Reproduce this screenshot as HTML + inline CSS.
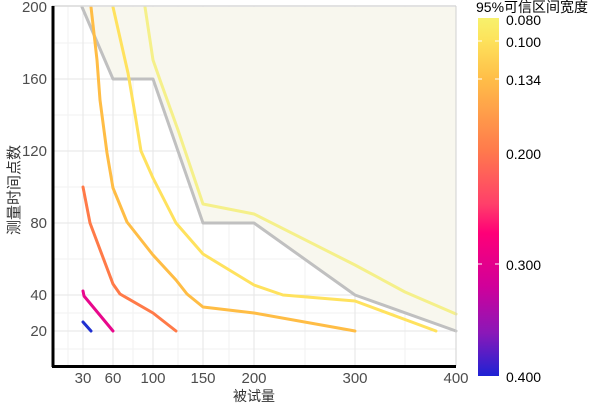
<!DOCTYPE html>
<html><head><meta charset="utf-8"><style>
body{margin:0;background:#fff;}
svg{display:block;font-family:"Liberation Sans","Noto Sans CJK SC",sans-serif;}
</style></head><body>
<svg width="606" height="409" viewBox="0 0 606 409">
<defs>
<linearGradient id="cb" x1="0" y1="0" x2="0" y2="1">
<stop offset="0" stop-color="#f7f16c"/>
<stop offset="0.06" stop-color="#fde35c"/>
<stop offset="0.17" stop-color="#ffbe48"/>
<stop offset="0.37" stop-color="#ff7a4c"/>
<stop offset="0.52" stop-color="#ff3f6a"/>
<stop offset="0.6" stop-color="#ff0077"/>
<stop offset="0.75" stop-color="#d0009a"/>
<stop offset="0.88" stop-color="#8a18b8"/>
<stop offset="1" stop-color="#1e22d4"/>
</linearGradient>
</defs>
<rect x="52" y="6" width="404" height="360" fill="#fff"/>
<g stroke="#f2f2f2" stroke-width="1">
<line x1="52" x2="456" y1="349" y2="349"/><line x1="52" x2="456" y1="313" y2="313"/>
<line x1="52" x2="456" y1="259" y2="259"/><line x1="52" x2="456" y1="187" y2="187"/>
<line x1="52" x2="456" y1="115" y2="115"/><line x1="52" x2="456" y1="43" y2="43"/>
<line y1="6" y2="366" x1="68" x2="68"/><line y1="6" y2="366" x1="133" x2="133"/>
<line y1="6" y2="366" x1="178" x2="178"/><line y1="6" y2="366" x1="229" x2="229"/>
<line y1="6" y2="366" x1="305" x2="305"/><line y1="6" y2="366" x1="405" x2="405"/>
</g>
<g stroke="#e6e6e6" stroke-width="1">
<line x1="52" x2="456" y1="331" y2="331"/><line x1="52" x2="456" y1="295" y2="295"/>
<line x1="52" x2="456" y1="223" y2="223"/><line x1="52" x2="456" y1="151" y2="151"/>
<line x1="52" x2="456" y1="79" y2="79"/>
<line y1="6" y2="366" x1="83" x2="83"/><line y1="6" y2="366" x1="113" x2="113"/>
<line y1="6" y2="366" x1="153" x2="153"/><line y1="6" y2="366" x1="203" x2="203"/>
<line y1="6" y2="366" x1="254" x2="254"/><line y1="6" y2="366" x1="355" x2="355"/>
</g>
<polygon points="82,7 113,79 153,79 203,223 254,223 355,295 456,331 456,7" fill="#f8f7ee"/>
<g fill="none" stroke-width="3" stroke-linejoin="round" stroke-linecap="round">
<polyline stroke="#c0c0c0" points="82,7 113,79 153,79 203,223 254,223 355,295 456,331"/>
<polyline stroke="#f5f08a" points="145,7 153,60 160,80 178,130 203,204 254,214 355,265 405,292 456,314"/>
<polyline stroke="#ffe25e" points="113,7 128,73 135,114 141,151 153,178 176,223 203,254 254,285 283,295 355,301 436,331"/>
<polyline stroke="#ffbd45" points="91,7 97,60 100,100 107,153 113,188 127,222 153,255 176,280 187,294 203,307 254,313 355,331"/>
<polyline stroke="#ff7a48" points="83,187 90,223 113,284 120,294 153,313 176,331"/>
<polyline stroke="#e8088c" points="83,291 84,296 113,331"/>
<polyline stroke="#2030d0" points="83,322 91,331"/>
</g>
<line x1="52" y1="6" x2="456" y2="6" stroke="#d9d9d9" stroke-width="1.5"/>
<line x1="456" y1="6" x2="456" y2="366" stroke="#d0d0d0" stroke-width="1"/>
<line x1="53" y1="6" x2="53" y2="367" stroke="#000" stroke-width="3"/>
<line x1="52" y1="366.5" x2="456" y2="366.5" stroke="#000" stroke-width="3"/>
<g font-size="15" fill="#4d4d4d" text-anchor="end">
<text x="47" y="12">200</text><text x="47" y="84">160</text><text x="47" y="156">120</text>
<text x="47" y="228">80</text><text x="47" y="300">40</text><text x="47" y="336">20</text>
</g>
<g font-size="15" fill="#4d4d4d" text-anchor="middle">
<text x="83" y="383">30</text><text x="113" y="383">60</text><text x="153" y="383">100</text>
<text x="203" y="383">150</text><text x="254" y="383">200</text><text x="355" y="383">300</text><text x="456" y="383">400</text>
</g>
<text x="254" y="401" font-size="14" fill="#333" text-anchor="middle">被试量</text>
<text transform="translate(19,190) rotate(-90)" font-size="15" fill="#333" text-anchor="middle">测量时间点数</text>
<rect x="478" y="18" width="21" height="358" fill="url(#cb)"/>
<g stroke="#fff" stroke-width="1">
<line x1="478" x2="482" y1="41" y2="41"/><line x1="495" x2="499" y1="41" y2="41"/>
<line x1="478" x2="482" y1="79" y2="79"/><line x1="495" x2="499" y1="79" y2="79"/>
<line x1="478" x2="482" y1="264" y2="264"/><line x1="495" x2="499" y1="264" y2="264"/>
</g>
<g font-size="14" fill="#000">
<text x="506" y="25">0.080</text><text x="506" y="47">0.100</text><text x="506" y="85">0.134</text>
<text x="506" y="159">0.200</text><text x="506" y="270">0.300</text><text x="506" y="382">0.400</text>
</g>
<text x="476" y="12" font-size="14" fill="#000">95%可信区间宽度</text>
</svg>
</body></html>
